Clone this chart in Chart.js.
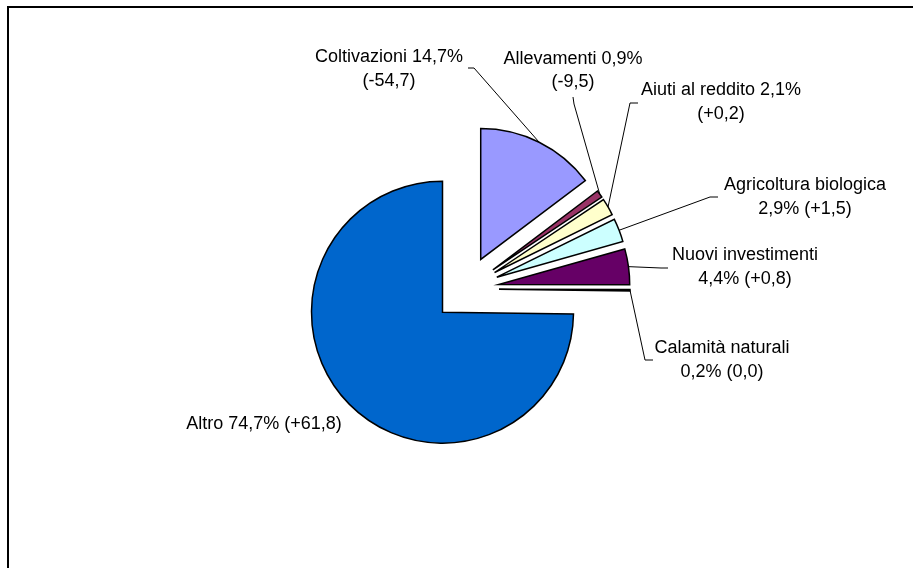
<!DOCTYPE html>
<html><head><meta charset="utf-8">
<script src="https://cdn.jsdelivr.net/npm/chart.js@4/dist/chart.umd.min.js"></script>
<style>
html,body{margin:0;padding:0;background:#fff;overflow:hidden}
#wrap{position:relative;width:913px;height:568px;overflow:hidden}
#frame{position:absolute;left:7px;top:6px;width:1000px;height:1000px;border-left:2px solid #000;border-top:2px solid #000;box-sizing:border-box}
canvas{position:absolute;left:0;top:0}
</style></head><body>
<div id="wrap"><div id="frame"></div><canvas id="c" width="913" height="568"></canvas></div>
<script>
// ---- data ----
const categories = ['Coltivazioni', 'Allevamenti', 'Aiuti al reddito', 'Agricoltura biologica', 'Nuovi investimenti', 'Calamità naturali', 'Altro'];
const shares = [14.7, 0.9, 2.1, 2.9, 4.4, 0.2, 74.7];
const changes = [-54.7, -9.5, 0.2, 1.5, 0.8, 0.0, 61.8];

// ---- styles / layout ----
const colors = ['#9999FF', '#993366', '#FFFFCC', '#CCFFFF', '#660066', '#FF8080', '#0066CC'];
const explode = [33, 33, 33, 33, 33, 33, 33];
const labelBreak = ['pct', 'pct', 'pct', 'name', 'name', 'name', 'none'];
const labelPos = [[389, 62], [573, 63.5], [721, 95], [805, 190], [745, 260], [722, 353], [264, 429]];
const leaderStub = [[[468, 68], [474, 68]], [[573, 97], [574, 104]], [[638, 103], [630, 103]], [[718, 197], [710, 197]], [[668, 268], [661, 268]], [[653, 360], [645, 360]], null];
const lineH = 23.5;

function fmt(v) { return v.toFixed(1).replace('.', ','); }
function fmtChange(v) { return v > 0 ? '+' + fmt(v) : (v < 0 ? '-' + fmt(-v) : fmt(0)); }
function labelLines(i) {
  const name = categories[i], pct = fmt(shares[i]) + '%', ch = '(' + fmtChange(changes[i]) + ')';
  if (labelBreak[i] === 'pct') return [name + ' ' + pct, ch];
  if (labelBreak[i] === 'name') return [name, pct + ' ' + ch];
  return [name + ' ' + pct + ' ' + ch];
}

const explodePlugin = {
  id: 'explodeSlices',
  beforeDatasetsDraw(chart) {
    const a = chart.chartArea;
    const cx = (a.left + a.right) / 2, cy = (a.top + a.bottom) / 2;
    chart.getDatasetMeta(0).data.forEach((el, i) => {
      const mid = (el.startAngle + el.endAngle) / 2;
      el.x = cx + explode[i] * Math.cos(mid);
      el.y = cy + explode[i] * Math.sin(mid);
    });
  }
};

const labelsPlugin = {
  id: 'outLabels',
  afterDatasetsDraw(chart) {
    const ctx = chart.ctx;
    const meta = chart.getDatasetMeta(0);
    ctx.save();
    ctx.strokeStyle = '#000';
    ctx.lineWidth = 1;
    meta.data.forEach((el, i) => {
      const st = leaderStub[i];
      if (!st) return;
      const mid = (el.startAngle + el.endAngle) / 2;
      const ex = el.x + el.outerRadius * Math.cos(mid), ey = el.y + el.outerRadius * Math.sin(mid);
      ctx.beginPath();
      ctx.moveTo(st[0][0], st[0][1]);
      ctx.lineTo(st[1][0], st[1][1]);
      ctx.lineTo(ex, ey);
      ctx.stroke();
    });
    ctx.fillStyle = '#000';
    ctx.font = '18px "Liberation Sans", Arial, sans-serif';
    ctx.textAlign = 'center';
    ctx.textBaseline = 'alphabetic';
    categories.forEach((c, i) => {
      labelLines(i).forEach((t, k) => ctx.fillText(t, labelPos[i][0], labelPos[i][1] + k * lineH));
    });
    ctx.restore();
  }
};

new Chart(document.getElementById('c'), {
  type: 'pie',
  data: {
    labels: categories,
    datasets: [{
      data: shares,
      backgroundColor: colors,
      borderColor: '#000',
      borderWidth: 1.5,
      borderJoinStyle: 'miter',
      radius: 131
    }]
  },
  options: {
    responsive: false,
    animation: false,
    events: [],
    layout: { padding: { left: 19, right: 0, top: 10, bottom: 0 } },
    plugins: { legend: { display: false }, tooltip: { enabled: false } }
  },
  plugins: [explodePlugin, labelsPlugin]
});
</script>
</body></html>
